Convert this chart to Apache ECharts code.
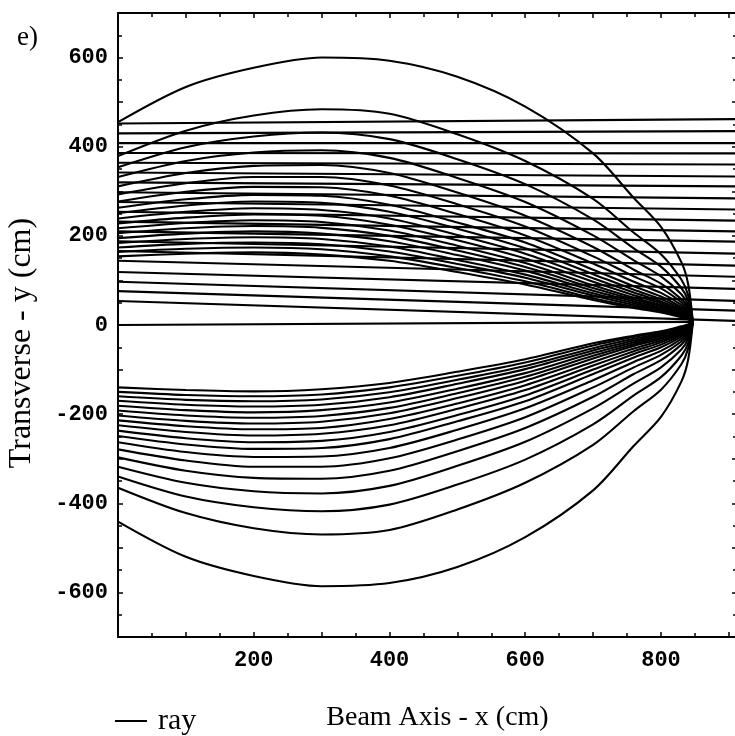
<!DOCTYPE html>
<html>
<head>
<meta charset="utf-8">
<script src="https://cdn.jsdelivr.net/npm/echarts@6/dist/echarts.min.js"></script>
<style>
  html, body { margin: 0; padding: 0; background: #fff; }
  #chart { width: 735px; height: 736px; }
</style>
</head>
<body>
<div id="chart"></div>
<script>
// sample positions along the beam axis shared by all curved rays (cm)
const rayX = [0, 100, 200, 300, 400, 500, 600, 700, 760, 800, 830, 840, 847];

// curved rays above the axis, outer to inner (transverse y in cm)
const upperRays = [
  [455, 534, 577, 600, 593, 557, 490, 385, 285, 220, 141, 92, 7],
  [379, 436, 470, 484, 474, 428, 368, 283, 207, 159, 102, 67, 7],
  [354, 399, 423, 432, 417, 372, 316, 237, 172, 131, 83, 55, 7],
  [332, 368, 387, 392, 375, 330, 276, 201, 145, 109, 69, 45, 7],
  [311, 341, 357, 359, 341, 297, 245, 175, 124, 93, 58, 39, 7],
  [293, 318, 332, 332, 313, 271, 221, 154, 109, 82, 51, 34, 7],
  [277, 299, 310, 309, 290, 249, 201, 138, 97, 72, 45, 30, 7],
  [263, 282, 292, 290, 270, 230, 185, 124, 87, 64, 40, 27, 7],
  [251, 268, 277, 274, 254, 216, 172, 114, 79, 58, 36, 24, 7],
  [239, 254, 262, 258, 239, 202, 160, 105, 73, 53, 33, 22, 7],
  [228, 241, 248, 245, 225, 190, 149, 97, 67, 49, 30, 21, 7],
  [217, 229, 235, 231, 212, 178, 139, 89, 61, 45, 28, 19, 7],
  [206, 217, 222, 218, 200, 167, 130, 83, 57, 42, 26, 18, 7],
  [195, 205, 210, 205, 188, 157, 122, 77, 53, 38, 24, 17, 7],
  [184, 193, 197, 193, 176, 146, 113, 71, 49, 35, 22, 16, 7],
  [174, 182, 185, 181, 165, 137, 106, 66, 45, 33, 20, 15, 7],
  [164, 171, 174, 170, 154, 128, 98, 60, 41, 30, 19, 14, 7],
  [154, 160, 163, 158, 144, 119, 91, 56, 38, 28, 17, 13, 7]
];

// curved rays below the axis, outer to inner
const lowerRays = [
  [-441, -520, -563, -586, -579, -543, -476, -371, -271, -206, -127, -78, 7],
  [-365, -422, -456, -470, -460, -414, -354, -269, -193, -145, -88, -53, 7],
  [-340, -385, -409, -418, -403, -358, -302, -223, -158, -117, -69, -41, 7],
  [-318, -354, -373, -378, -361, -316, -262, -187, -131, -95, -55, -31, 7],
  [-297, -327, -343, -345, -327, -283, -231, -161, -110, -79, -44, -25, 7],
  [-279, -304, -318, -318, -299, -257, -207, -140, -95, -67, -37, -20, 7],
  [-263, -285, -296, -295, -276, -235, -187, -124, -83, -58, -31, -16, 7],
  [-249, -268, -278, -276, -256, -216, -171, -110, -73, -50, -26, -13, 7],
  [-237, -254, -263, -260, -240, -202, -158, -100, -65, -44, -22, -10, 7],
  [-225, -240, -248, -244, -225, -188, -146, -91, -59, -39, -19, -9, 7],
  [-214, -227, -234, -231, -211, -176, -135, -83, -53, -35, -16, -7, 7],
  [-203, -215, -221, -217, -198, -164, -125, -75, -47, -31, -14, -5, 7],
  [-192, -203, -208, -204, -186, -153, -116, -69, -43, -28, -12, -4, 7],
  [-181, -191, -196, -191, -174, -143, -108, -63, -39, -24, -10, -3, 7],
  [-170, -179, -183, -179, -162, -132, -99, -57, -35, -21, -8, -2, 7],
  [-160, -168, -171, -167, -151, -123, -92, -52, -31, -19, -6, -1, 7],
  [-150, -157, -160, -156, -140, -114, -84, -46, -27, -16, -5, 0, 7],
  [-140, -146, -149, -144, -130, -105, -77, -41, -24, -14, -3, 1, 7]
];

// near-horizontal rays crossing the whole frame: y at the left and right edges
const flatX = [0, 912];
const flatLeft = [54, 76, 97, 119, 144, 166, 188, 210, 232, 254, 276, 298, 320, 342, 364, 386, 408, 430, 452];
const flatRight = [9, 32, 54, 81, 108, 133, 160, 187, 210, 234, 259, 284, 311, 333, 360, 385, 408, 435, 462];

// on-axis ray, from the entrance to the focus
const axisRayX = [0, 847];
const axisRayY = [0, 7];

const xLabels = [200, 400, 600, 800];
const yLabels = [-600, -400, -200, 0, 200, 400, 600];

const chart = echarts.init(document.getElementById('chart'));

const tickFont = {
  fontFamily: 'Liberation Mono',
  fontWeight: 'bold',
  fontSize: 22,
  color: '#000'
};

function rayLine(xs, ys) {
  return {
    type: 'line',
    name: 'ray',
    data: xs.map((x, i) => [x, ys[i]]),
    smooth: 0.3,
    symbol: 'none',
    silent: true,
    lineStyle: {color: '#000', width: 2.1},
    itemStyle: {color: '#000'}
  };
}

const series = [];
upperRays.forEach(r => series.push(rayLine(rayX, r)));
lowerRays.forEach(r => series.push(rayLine(rayX, r)));
flatLeft.forEach((y, i) => series.push(rayLine(flatX, [y, flatRight[i]])));
series.push(rayLine(axisRayX, axisRayY));

const frameLine = {show: true, onZero: false, lineStyle: {color: '#000', width: 2}};
const frameTick = {show: true, inside: true, length: 5, lineStyle: {color: '#000', width: 1.5}};
const frameMinor = {show: true, splitNumber: 2, length: 4, lineStyle: {color: '#000', width: 1.5}};

const option = {
  animation: false,
  backgroundColor: '#fff',
  grid: {left: 118, right: -2, top: 13, bottom: 99, outerBoundsMode: 'none', containLabel: false},
  legend: {
    data: [{name: 'ray', icon: 'rect'}],
    left: 110,
    top: 701,
    itemWidth: 32,
    itemHeight: 2,
    itemGap: 10,
    selectedMode: false,
    textStyle: {fontFamily: 'Liberation Serif', fontSize: 30, color: '#000', padding: [0, 0, 0, 6]}
  },
  graphic: [{
    type: 'text',
    left: 17,
    top: 24,
    style: {text: 'e)', fontFamily: 'Liberation Serif', fontSize: 27, fill: '#000'}
  }],
  xAxis: [
    {
      type: 'value', min: 0, max: 912, interval: 100, position: 'bottom',
      axisLine: frameLine, axisTick: frameTick, minorTick: frameMinor,
      splitLine: {show: false},
      axisLabel: Object.assign({margin: 12, formatter: v => xLabels.includes(v) ? String(v) : ''}, tickFont),
      name: 'Beam Axis - x (cm)',
      nameLocation: 'middle',
      nameGap: 67,
      nameTextStyle: {fontFamily: 'Liberation Serif', fontSize: 28, color: '#000', padding: [0, 0, 0, 20]}
    },
    {
      type: 'value', min: 0, max: 912, interval: 100, position: 'top',
      axisLine: frameLine, axisTick: frameTick, minorTick: frameMinor,
      splitLine: {show: false}, axisLabel: {show: false}
    }
  ],
  yAxis: [
    {
      type: 'value', min: -700, max: 700, interval: 100, position: 'left',
      axisLine: frameLine, axisTick: frameTick, minorTick: frameMinor,
      splitLine: {show: false},
      axisLabel: Object.assign({margin: 10, formatter: v => yLabels.includes(v) ? String(v) : ''}, tickFont),
      name: 'Transverse - y (cm)',
      nameLocation: 'middle',
      nameGap: 80,
      nameTextStyle: {fontFamily: 'Liberation Serif', fontSize: 32, color: '#000', padding: [0, 36, 0, 0]}
    },
    {
      type: 'value', min: -700, max: 700, interval: 100, position: 'right',
      axisLine: frameLine, axisTick: frameTick, minorTick: frameMinor,
      splitLine: {show: false}, axisLabel: {show: false}
    }
  ],
  series: series
};

chart.setOption(option);
</script>
</body>
</html>
